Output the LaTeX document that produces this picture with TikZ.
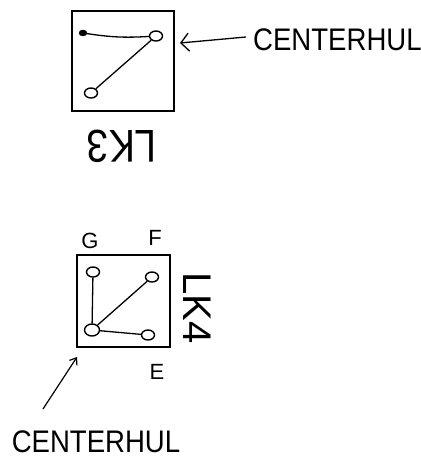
\documentclass[tikz,border=0pt]{standalone}
\usepackage{fontspec}
\setmainfont{Liberation Sans}
\usetikzlibrary{shapes.geometric,arrows.meta}
\begin{document}
\begin{tikzpicture}[x=1pt,y=-1pt,
  frame/.style={draw, line width=2pt},
  vtx/.style={draw, ellipse, line width=1.4pt, minimum width=13pt, minimum height=10pt, inner sep=0pt},
  dotv/.style={draw, fill, ellipse, minimum width=8pt, minimum height=6pt, inner sep=0pt},
  edge/.style={line width=1.3pt},
  big/.style={font=\fontsize{26}{26}\selectfont, inner sep=0pt, yscale=1.2, xscale=1.06},
  letter/.style={font=\fontsize{22}{22}\selectfont, inner sep=0pt}]
\useasboundingbox (0,0) rectangle (421,459);
% top diagram
\node[frame, minimum width=102pt, minimum height=100pt, inner sep=0pt] (box3) at (123,61) {};
\node[dotv] (a) at (83,33) {};
\node[vtx] (b) at (156,36) {};
\node[vtx] (c) at (91,93) {};
\draw[edge] (a) to[bend right=6] (b);
\draw[edge] (b) -- (c);
\node[big, anchor=west] (t1) at (253,40) {CENTERHUL};
\coordinate (t1s) at (246,37);
\draw[line width=1.3pt, -{Straight Barb[length=8pt,width=18pt,line width=1.3pt]}] (t1s) -- (180,43);
\node[font=\fontsize{46}{46}\selectfont, inner sep=0pt, rotate=180, xscale=0.85] (lk3) at (122,146) {LK3};
% bottom diagram
\node[frame, minimum width=93pt, minimum height=92pt, inner sep=0pt] (box4) at (123.5,301) {};
\node[vtx] (g) at (93,272) {};
\node[vtx] (f) at (152,277) {};
\node[vtx, minimum width=15pt, minimum height=12pt] (h) at (92,330) {};
\node[vtx] (e) at (148,335) {};
\draw[edge] (h) -- (g);
\draw[edge] (h) -- (f);
\draw[edge] (h) -- (e);
\node[letter] (lg) at (90,241) {G};
\node[letter] (lf) at (155,238) {F};
\node[letter] (le) at (157,372) {E};
\node[font=\fontsize{40}{40}\selectfont, inner sep=0pt, rotate=-90] (lk4) at (197,308) {LK4};
\node[big] (t2) at (96,442) {CENTERHUL};
\coordinate (t2s) at (43,409);
\draw[line width=1.2pt, -{Straight Barb[length=6pt,width=9pt,line width=1.2pt]}] (t2s) -- (77,357);
\end{tikzpicture}
\end{document}
